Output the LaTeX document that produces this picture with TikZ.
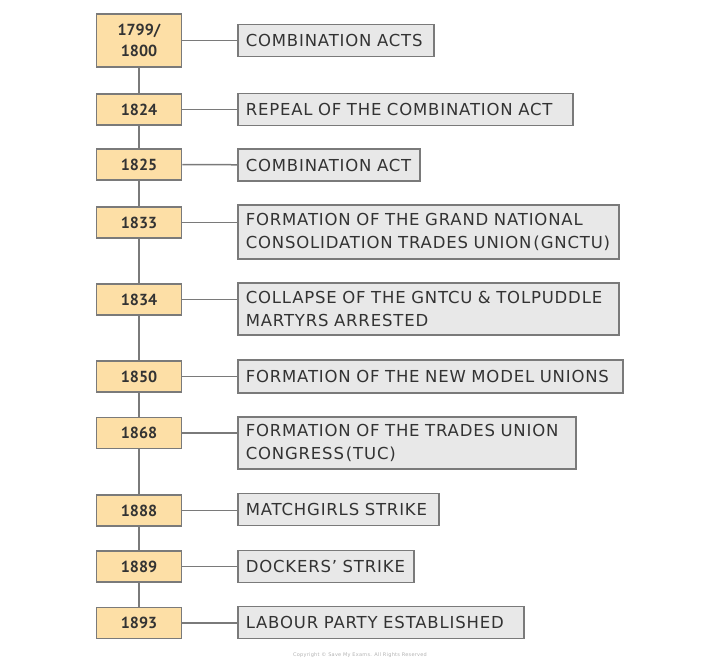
\documentclass[tikz,border=0pt]{standalone}
\usepackage{fontspec}
\setmainfont{DejaVu Sans}[LetterSpace=5]
\newfontfamily\yearfont{PT Sans}
\usepackage{tikz}

\definecolor{yearfill}{HTML}{FDDFA6}
\definecolor{eventfill}{HTML}{E8E8E8}
\definecolor{boxline}{HTML}{7A7A7A}
\definecolor{inktext}{HTML}{333333}

\begin{document}
\begin{tikzpicture}[
    x=1pt,y=-1pt,
    year/.style={draw=boxline,fill=yearfill,line width=1.5pt,
        minimum width=85pt,minimum height=31pt,inner sep=2pt,
        align=center,text=inktext,font={\yearfont\fontsize{16}{21}\selectfont\bfseries}},
    event/.style={draw=boxline,fill=eventfill,line width=1.5pt,anchor=west,
        minimum height=32pt,inner xsep=8pt,inner ysep=3pt,align=left,
        text=inktext,font={\fontsize{16.5}{23}\selectfont}},
    link/.style={draw=boxline,line width=1.5pt},
    ]
    \useasboundingbox (0,0) rectangle (720,665);

    % years
    \node[year,minimum height=53pt] (y1799) at (139,40.5) {1799/\\1800};
    \node[year] (y1824) at (139,109.5) {1824};
    \node[year] (y1825) at (139,164.5) {1825};
    \node[year] (y1833) at (139,222.5) {1833};
    \node[year] (y1834) at (139,299.5) {1834};
    \node[year] (y1850) at (139,376.5) {1850};
    \node[year] (y1868) at (139,433) {1868};
    \node[year] (y1888) at (139,510.5) {1888};
    \node[year] (y1889) at (139,566.5) {1889};
    \node[year] (y1893) at (139,623) {1893};

    % events (text width = box width - 16pt)
    \node[event,text width=180pt] (e1799) at (237,40.5) {COMBINATION ACTS};
    \node[event,text width=319pt] (e1824) at (237,109.5) {REPEAL OF THE COMBINATION ACT};
    \node[event,text width=166pt] (e1825) at (237,165) {COMBINATION ACT};
    \node[event,text width=365pt,minimum height=54pt] (e1833) at (237,232)
        {FORMATION OF THE GRAND NATIONAL\\CONSOLIDATION TRADES UNION\hspace{0.12em}(GNCTU)};
    \node[event,text width=365pt,minimum height=52pt] (e1834) at (237,309)
        {COLLAPSE OF THE GNTCU \& TOLPUDDLE\\MARTYRS ARRESTED};
    \node[event,text width=369pt,minimum height=33pt] (e1850) at (237,376.5) {FORMATION OF THE NEW MODEL UNIONS};
    \node[event,text width=322pt,minimum height=52pt] (e1868) at (237,443)
        {FORMATION OF THE TRADES UNION\\CONGRESS\hspace{0.12em}(TUC)};
    \node[event,text width=185pt] (e1888) at (237,509.5) {MATCHGIRLS STRIKE};
    \node[event,text width=160pt] (e1889) at (237,566.5) {DOCKERS’ STRIKE};
    \node[event,text width=270pt] (e1893) at (237,622.5) {LABOUR PARTY ESTABLISHED};

    % time line
    \draw[link] (y1799) -- (y1824);
    \draw[link] (y1824) -- (y1825);
    \draw[link] (y1825) -- (y1833);
    \draw[link] (y1833) -- (y1834);
    \draw[link] (y1834) -- (y1850);
    \draw[link] (y1850) -- (y1868);
    \draw[link] (y1868) -- (y1888);
    \draw[link] (y1888) -- (y1889);
    \draw[link] (y1889) -- (y1893);

    % links to events
    \draw[link] (y1799.east) -- (y1799.east -| e1799.west);
    \draw[link] (y1824) -- (e1824);
    \draw[link] (y1825) -- (e1825);
    \draw[link] (y1833.east) -- (y1833.east -| e1833.west);
    \draw[link] (y1834.east) -- (y1834.east -| e1834.west);
    \draw[link] (y1850) -- (e1850);
    \draw[link] (y1868.east) -- (y1868.east -| e1868.west);
    \draw[link] (y1888.east) -- (y1888.east -| e1888.west);
    \draw[link] (y1889) -- (e1889);
    \draw[link] (y1893.east) -- (y1893.east -| e1893.west);

    % copyright
    \node[text=black!30,font={\fontsize{5}{6}\selectfont}] (copy) at (360,655)
        {Copyright © Save My Exams. All Rights Reserved};
\end{tikzpicture}
\end{document}
